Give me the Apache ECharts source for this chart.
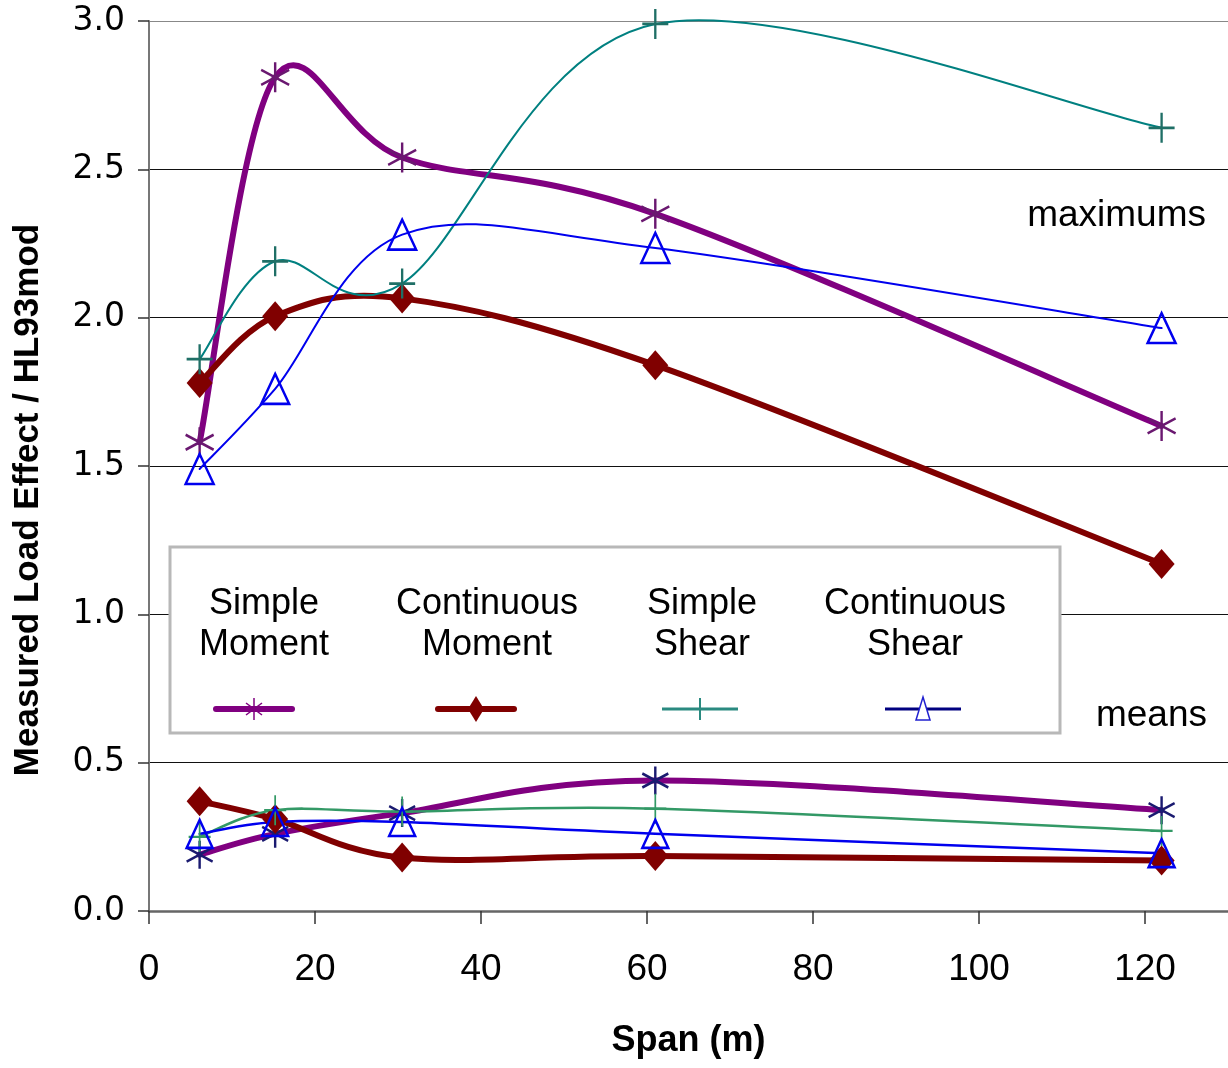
<!DOCTYPE html>
<html>
<head>
<meta charset="utf-8">
<title>Measured Load Effect / HL93mod</title>
<script src="https://cdn.jsdelivr.net/npm/echarts@6/dist/echarts.min.js"></script>
<style>
html, body { margin: 0; padding: 0; background: #fff; }
#main { width: 1228px; height: 1068px; }
</style>
</head>
<body>
<div id="main"></div>
<script>
// span of the bridge (m)
var spans = [6.1, 15.2, 30.5, 61, 122];
var seriesNames = ['Simple Moment', 'Continuous Moment', 'Simple Shear', 'Continuous Shear'];
var legendLabels = ['Simple\nMoment', 'Continuous\nMoment', 'Simple\nShear', 'Continuous\nShear'];

// maximums
var maxSimpleMoment = [1.58, 2.81, 2.54, 2.35, 1.635];
var maxContMoment = [1.78, 2.005, 2.065, 1.84, 1.17];
var maxSimpleShear = [1.86, 2.19, 2.115, 2.99, 2.64];
var maxContShear = [1.49, 1.76, 2.28, 2.235, 1.965];

// means
var meanSimpleMoment = [0.19, 0.26, 0.33, 0.44, 0.34];
var meanContMoment = [0.37, 0.31, 0.18, 0.185, 0.17];
var meanSimpleShear = [0.25, 0.34, 0.335, 0.345, 0.27];
var meanContShear = [0.26, 0.30, 0.30, 0.26, 0.195];

var xTickLabels = [0, 20, 40, 60, 80, 100, 120];
var yTickLabels = ['0.0', '0.5', '1.0', '1.5', '2.0', '2.5', '3.0'];

// marker shapes
var STAR = 'path://M0,-10L0,10M-8.66,-5L8.66,5M-8.66,5L8.66,-5';
var PLUS = 'path://M0,-10L0,10M-10,0L10,0';

var purple = '#800080', maroon = '#800000', teal = '#008080', blue = '#0000ee';
var navy = '#1a1a70', green = '#339966';

function pairs(ys) {
	return spans.map(function(x, i) { return [x, ys[i]]; });
}

// smoothed curve like the spreadsheet one (catmull-rom through the points)
function curve(name, ys, color, width) {
	return {
		name: name,
		type: 'custom',
		silent: true,
		data: pairs(ys),
		renderItem: function(params, api) {
			if (params.dataIndex !== 0) return null;
			var p = ys.map(function(y, i) { return api.coord([spans[i], y]); });
			var d = 'M' + p[0][0] + ',' + p[0][1];
			for (var i = 0; i < p.length - 1; i++) {
				var a = p[i - 1] || p[i], b = p[i], c = p[i + 1], e = p[i + 2] || p[i + 1];
				d += 'C' + (b[0] + (c[0] - a[0]) / 6) + ',' + (b[1] + (c[1] - a[1]) / 6) + ' ' +
					(c[0] - (e[0] - b[0]) / 6) + ',' + (c[1] - (e[1] - b[1]) / 6) + ' ' + c[0] + ',' + c[1];
			}
			return {
				type: 'path',
				shape: { pathData: d },
				style: { fill: 'none', stroke: color, lineWidth: width, lineJoin: 'round', lineCap: 'round' }
			};
		}
	};
}

function markers(name, ys, symbol, size, mColor, fill, bw) {
	return {
		name: name,
		type: 'scatter',
		silent: true,
		data: pairs(ys),
		symbol: symbol,
		symbolSize: size,
		itemStyle: { color: fill, borderColor: mColor, borderWidth: bw, opacity: 1 }
	};
}

var myChart = echarts.init(document.getElementById('main'));

var font = '"Liberation Sans", Arial, sans-serif';

// legend drawn by hand: text above, sample line below
var textX = [264, 487, 702, 915];
var sampleX = [254, 476, 700, 923];
var legendGraphic = [{
	type: 'rect',
	shape: { x: 170, y: 547, width: 890, height: 186 },
	style: { fill: '#fff', stroke: '#b8b8b8', lineWidth: 3 },
	z: 10
}];
legendLabels.forEach(function(t, i) {
	legendGraphic.push({
		type: 'text', z: 11,
		style: { text: t, x: textX[i], y: 625, font: '36px ' + font, lineHeight: 41, fill: '#000', textAlign: 'center', textVerticalAlign: 'middle' }
	});
});
var sy = 709;
function seg(x1, y1, x2, y2, color, w, cap) {
	return { type: 'line', z: 12, shape: { x1: x1, y1: y1, x2: x2, y2: y2 }, style: { stroke: color, lineWidth: w, lineCap: cap || 'butt' } };
}
var s0 = sampleX[0], s1 = sampleX[1], s2 = sampleX[2], s3 = sampleX[3];
legendGraphic.push(
	seg(s0 - 38, sy, s0 + 38, sy, purple, 6, 'round'),
	seg(s0, sy - 11, s0, sy + 11, purple, 1.5),
	seg(s0 - 8, sy - 6, s0 + 8, sy + 6, purple, 1.5),
	seg(s0 - 8, sy + 6, s0 + 8, sy - 6, purple, 1.5),
	seg(s1 - 38, sy, s1 + 38, sy, maroon, 6, 'round'),
	{ type: 'polygon', z: 13, shape: { points: [[s1, sy - 13], [s1 + 8, sy], [s1, sy + 13], [s1 - 8, sy]] }, style: { fill: maroon } },
	seg(s2 - 38, sy, s2 + 38, sy, '#2a8a80', 3),
	seg(s2, sy - 11, s2, sy + 11, '#2a8a80', 2),
	seg(s3 - 38, sy, s3 + 38, sy, '#000080', 3),
	{ type: 'polygon', z: 13, shape: { points: [[s3, sy - 12], [s3 + 7, sy + 11], [s3 - 7, sy + 11]] }, style: { fill: '#fff', stroke: '#2020d0', lineWidth: 1.5 } }
);

var option = {
	animation: false,
	backgroundColor: '#fff',
	grid: { left: 149, top: 21, width: 1083, height: 890 },
	xAxis: {
		type: 'value',
		min: 0, max: 130, interval: 20,
		name: 'Span (m)',
		nameLocation: 'middle',
		nameGap: 112,
		nameTextStyle: { fontFamily: font, fontSize: 36, fontWeight: 'bold', color: '#000' },
		axisLine: { lineStyle: { color: '#666', width: 2.5 } },
		axisTick: { length: 13, lineStyle: { color: '#333', width: 1.5 } },
		axisLabel: {
			margin: 40,
			fontFamily: font, fontSize: 37, color: '#000',
			showMaxLabel: false,
			formatter: function(v) { return xTickLabels.indexOf(v) >= 0 ? String(v) : ''; }
		},
		splitLine: { show: false }
	},
	yAxis: {
		type: 'value',
		min: 0, max: 3, interval: 0.5,
		axisLine: { show: true, lineStyle: { color: '#777', width: 2 } },
		axisTick: { show: true, length: 11, lineStyle: { color: '#333', width: 1.5 } },
		axisLabel: {
			margin: 24,
			fontFamily: '"DejaVu Sans", sans-serif', fontSize: 33, color: '#000',
			formatter: function(v) { return yTickLabels[Math.round(v * 2)]; }
		},
		splitLine: { lineStyle: { color: ['#888', '#111', '#111', '#111', '#111', '#111', '#888'], width: 1.2 } }
	},
	graphic: legendGraphic.concat([
		{ type: 'text', style: { text: 'maximums', x: 1206, y: 216, font: '37px ' + font, fill: '#000', textAlign: 'right', textVerticalAlign: 'middle' } },
		{ type: 'text', style: { text: 'means', x: 1207, y: 716, font: '37px ' + font, fill: '#000', textAlign: 'right', textVerticalAlign: 'middle' } },
		{ type: 'text', rotation: Math.PI / 2, x: 28, y: 500, style: { text: 'Measured Load Effect / HL93mod', x: 0, y: 0, font: 'bold 35px ' + font, fill: '#000', textAlign: 'center', textVerticalAlign: 'middle' } }
	]),
	series: [
		curve(seriesNames[0], maxSimpleMoment, purple, 6),
		markers(seriesNames[0], maxSimpleMoment, STAR, [28, 30], '#6a1870', purple, 2.5),
		curve(seriesNames[1], maxContMoment, maroon, 6),
		markers(seriesNames[1], maxContMoment, 'diamond', [26, 30], maroon, maroon, 0),
		curve(seriesNames[2], maxSimpleShear, teal, 2),
		markers(seriesNames[2], maxSimpleShear, PLUS, [26, 30], '#1f6f66', teal, 2.5),
		curve(seriesNames[3], maxContShear, blue, 2),
		markers(seriesNames[3], maxContShear, 'triangle', [28, 30], blue, 'rgba(255,255,255,0)', 2.5),
		curve(seriesNames[0] + ' mean', meanSimpleMoment, purple, 6),
		markers(seriesNames[0] + ' mean', meanSimpleMoment, STAR, [26, 28], navy, navy, 2.5),
		curve(seriesNames[1] + ' mean', meanContMoment, maroon, 6),
		markers(seriesNames[1] + ' mean', meanContMoment, 'diamond', [26, 30], maroon, maroon, 0),
		curve(seriesNames[2] + ' mean', meanSimpleShear, green, 2.5),
		markers(seriesNames[2] + ' mean', meanSimpleShear, PLUS, [22, 30], green, green, 2),
		curve(seriesNames[3] + ' mean', meanContShear, blue, 2.5),
		markers(seriesNames[3] + ' mean', meanContShear, 'triangle', [26, 28], blue, 'rgba(255,255,255,0)', 2.5)
	]
};

myChart.setOption(option);
</script>
</body>
</html>
